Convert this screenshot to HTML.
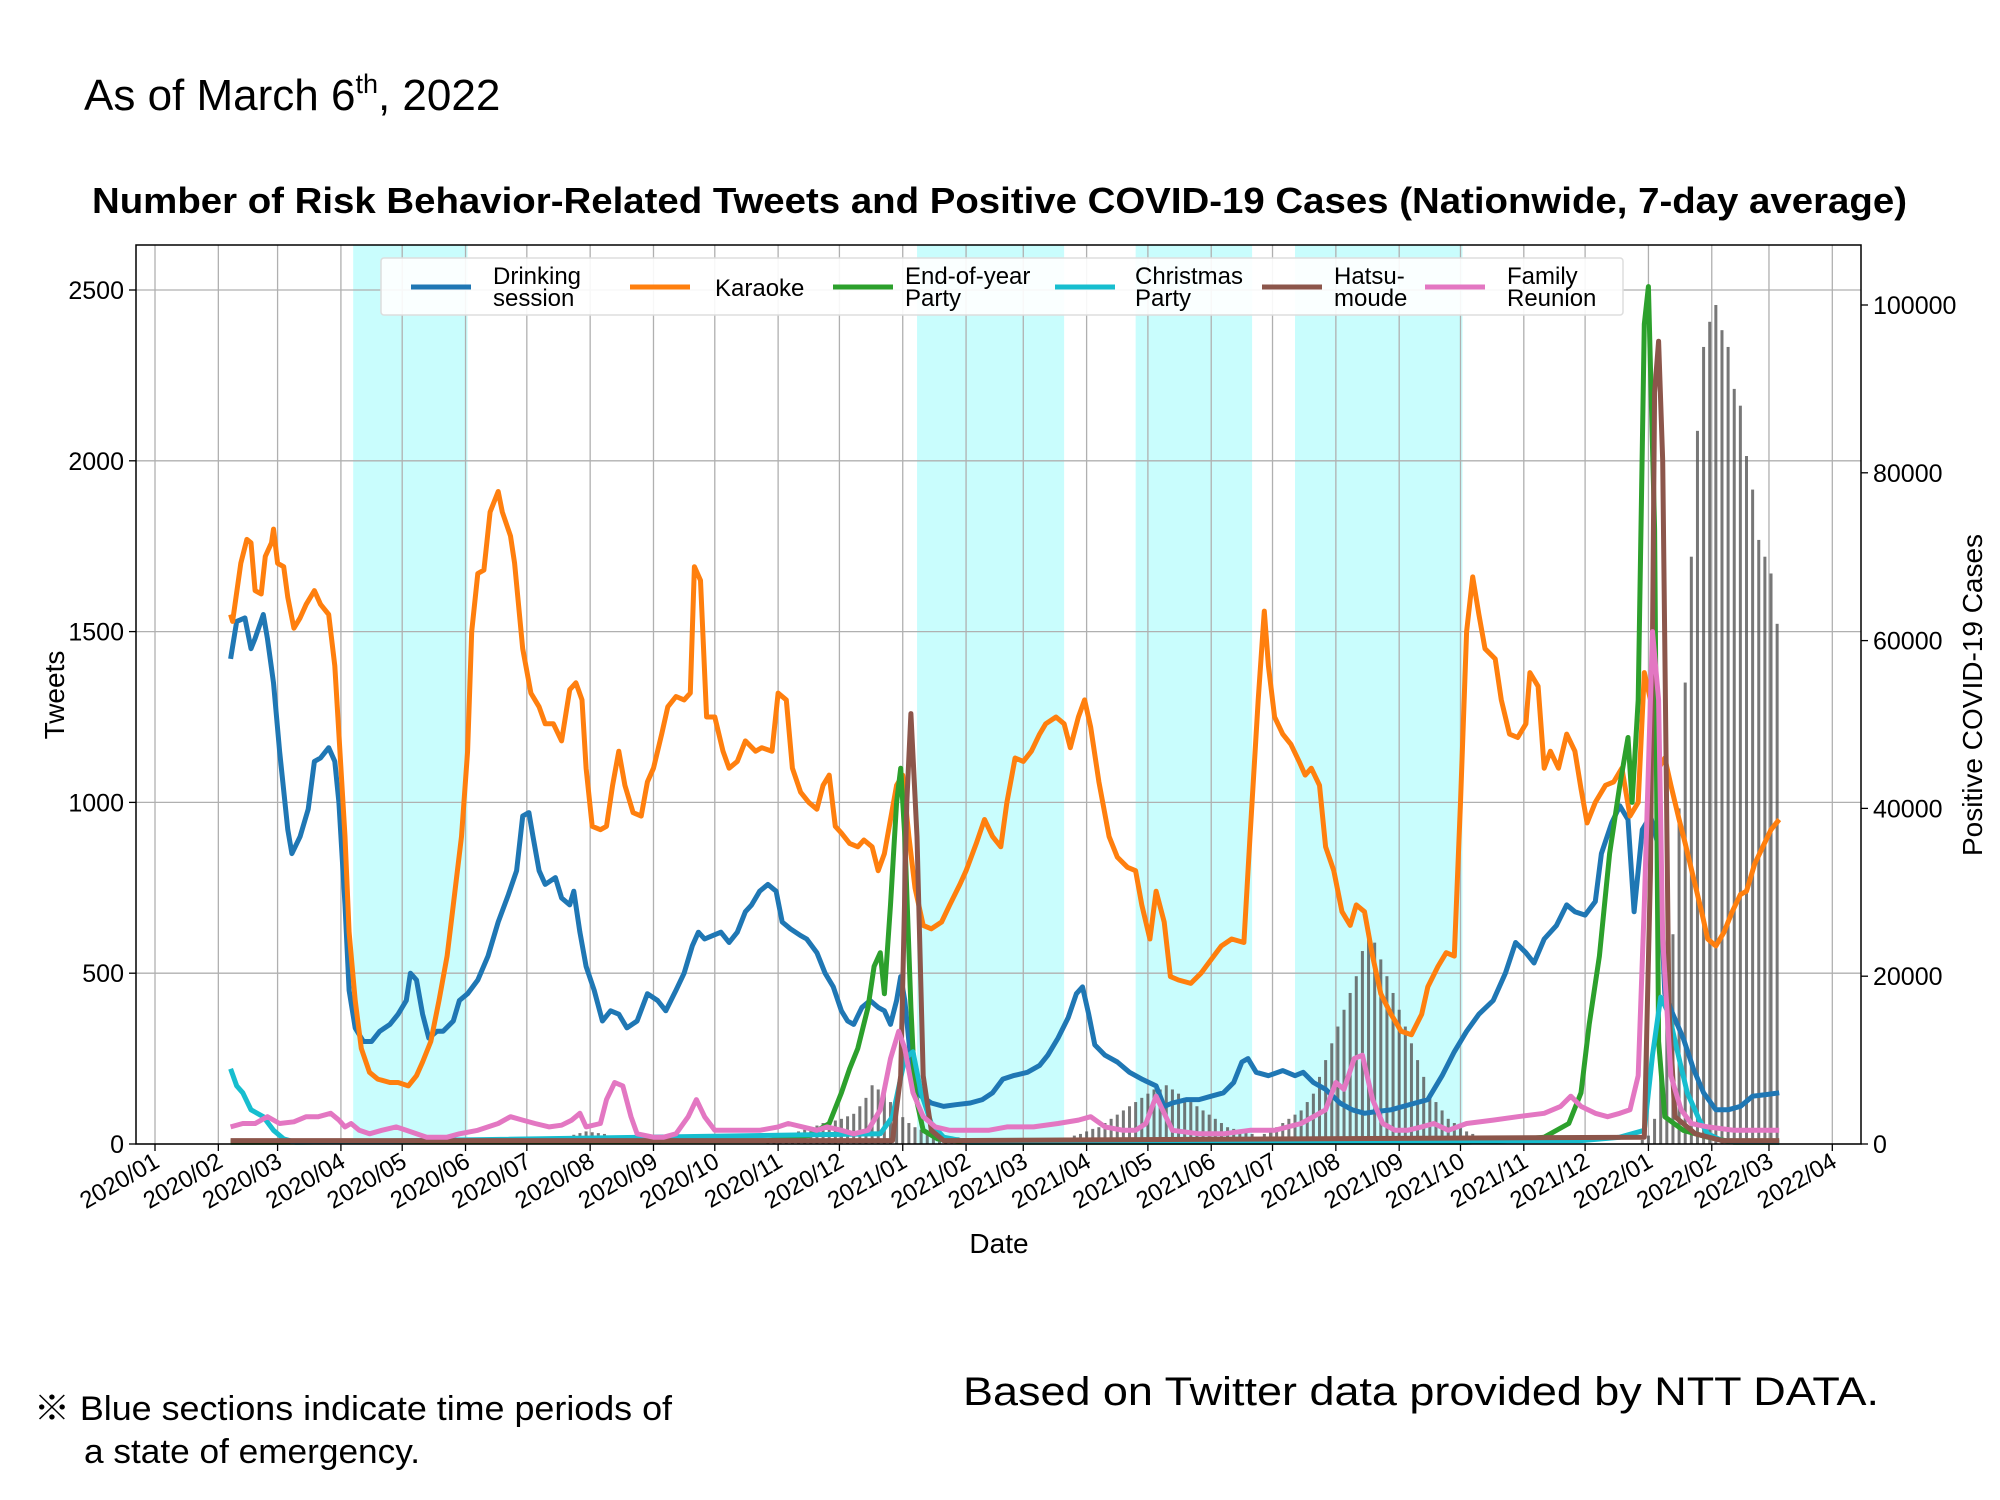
<!DOCTYPE html>
<html><head><meta charset="utf-8"><style>
html,body{margin:0;padding:0;background:#fff;}
svg{display:block;font-family:"Liberation Sans","Noto Sans CJK JP",sans-serif;}
</style></head><body>
<svg id="chart" width="2000" height="1500" viewBox="0 0 2000 1500">
<text x="84" y="110" font-size="44">As of March 6<tspan font-size="27" dy="-17">th</tspan><tspan dy="17">, 2022</tspan></text>
<text x="92" y="213" font-size="36" font-weight="bold" textLength="1815" lengthAdjust="spacingAndGlyphs">Number of Risk Behavior-Related Tweets and Positive COVID-19 Cases (Nationwide, 7-day average)</text>
<text x="963" y="1405" font-size="40" textLength="916" lengthAdjust="spacingAndGlyphs">Based on Twitter data provided by NTT DATA.</text>
<text x="34" y="1420" font-size="34" textLength="638" lengthAdjust="spacingAndGlyphs">※ Blue sections indicate time periods of</text>
<text x="84" y="1463" font-size="34" textLength="336" lengthAdjust="spacingAndGlyphs">a state of emergency.</text>
<text transform="translate(64,695) rotate(-90)" text-anchor="middle" font-size="28">Tweets</text>
<text transform="translate(1982,695) rotate(-90)" text-anchor="middle" font-size="28">Positive COVID-19 Cases</text>
<text x="999" y="1253" text-anchor="middle" font-size="28">Date</text>
<g id="plot"></g>
</svg>
<script>
const emergStart=[97,373,480,558];
const emergEnd=[153,445,537,640];
const monthLabels=["2020/01","2020/02","2020/03","2020/04","2020/05","2020/06","2020/07","2020/08","2020/09","2020/10","2020/11","2020/12","2021/01","2021/02","2021/03","2021/04","2021/05","2021/06","2021/07","2021/08","2021/09","2021/10","2021/11","2021/12","2022/01","2022/02","2022/03","2022/04"];
const monthDays=[0,31,60,91,121,152,182,213,244,274,305,335,366,397,425,456,486,517,547,578,609,639,670,700,731,762,790,821];
const leftTicks=[0,500,1000,1500,2000,2500];
const rightTicks=[0,20000,40000,60000,80000,100000];
const caseSegStart=[190,300,450,543,728];
const caseSeg0=[200,300,500,700,900,1100,1300,1500,1400,1300,1200,1000,900,800,700,600,500,500,450,400];
const caseSeg1=[500,600,800,1000,1200,1500,1700,2000,2200,2500,2700,2800,3000,3300,3600,4500,5500,7000,6500,6000,5000,4000,3200,2500,2000,1700,1500,1300,1100,1000,900,800,700,600];
const caseSeg2=[1000,1200,1500,1800,2000,2500,3000,3500,4000,4500,5000,5500,6000,6500,6500,7000,6500,6000,5500,5000,4500,4000,3500,3000,2500,2000,1800,1500,1300,1200];
const caseSeg3=[1200,1500,2000,2500,3000,3500,4000,5000,6000,8000,10000,12000,14000,16000,18000,20000,23000,25000,24000,22000,20000,18000,16000,14000,12000,10000,8000,6000,5000,4000,3000,2500,2000,1500,1200,1000];
const caseSeg4=[500,1000,3000,8000,15000,25000,40000,55000,70000,85000,95000,98000,100000,97000,95000,90000,88000,82000,78000,72000,70000,68000,62000];
const drinkDays=[37,40,44,47,49,53,55,58,61,65,67,71,75,78,81,85,88,90,93,95,98,102,106,110,115,119,123,125,128,131,134,138,141,146,149,153,158,163,168,173,177,180,183,185,188,191,196,199,203,205,208,211,215,219,223,227,231,236,241,246,250,255,259,263,266,269,273,277,281,285,289,292,296,300,304,307,311,316,319,324,328,332,336,339,342,346,350,354,357,360,363,365,367,371,375,380,386,392,399,405,410,415,420,427,433,437,442,447,451,454,457,460,465,471,477,483,490,494,498,505,511,517,523,528,532,535,539,545,552,558,562,567,573,580,586,592,598,605,611,617,623,630,636,642,648,655,661,666,671,675,680,686,691,695,700,705,708,713,717,721,724,728,732,736,739,743,748,753,758,764,770,776,782,789,795];
const drinkVals=[1420,1530,1540,1450,1480,1550,1480,1350,1150,920,850,900,980,1120,1130,1160,1120,1000,700,450,340,300,300,330,350,380,420,500,480,380,310,330,330,360,420,440,480,550,650,730,800,960,970,900,800,760,780,720,700,740,620,520,450,360,390,380,340,360,440,420,390,450,500,580,620,600,610,620,590,620,680,700,740,760,740,650,630,610,600,560,500,460,390,360,350,400,420,400,390,350,420,490,420,180,140,120,110,115,120,130,150,190,200,210,230,260,310,370,440,460,380,290,260,240,210,190,170,110,120,130,130,140,150,180,240,250,210,200,215,200,210,180,160,120,100,90,95,100,110,120,130,200,270,330,380,420,500,590,560,530,600,640,700,680,670,710,850,940,990,950,680,920,960,870,440,380,310,220,150,100,100,110,140,145,150];
const karaDays=[37,38,42,45,47,49,52,54,57,58,60,63,65,68,71,74,78,81,85,88,90,93,95,98,101,105,109,115,119,124,128,131,135,139,143,146,150,153,155,158,161,164,168,170,174,176,180,184,188,191,195,199,203,206,209,211,214,218,221,224,227,230,234,238,241,244,248,251,255,259,262,264,267,270,274,278,281,285,289,294,297,302,305,309,312,316,320,324,327,330,333,336,340,344,347,351,354,357,360,363,366,369,372,376,380,385,389,394,397,402,406,410,414,417,421,425,429,433,436,441,445,448,452,455,458,462,467,471,476,480,483,487,490,494,497,501,507,512,517,522,527,533,536,540,543,545,548,552,556,560,563,566,570,573,577,581,585,588,592,596,600,605,610,615,620,623,628,632,636,639,642,645,648,651,656,659,663,667,671,673,677,680,683,687,691,695,698,701,705,710,714,718,722,726,729,732,736,739,742,746,749,753,757,760,764,768,772,776,779,783,787,791,795];
const karaVals=[1550,1530,1700,1770,1760,1620,1610,1720,1760,1800,1700,1690,1600,1510,1540,1580,1620,1580,1550,1400,1200,900,620,420,280,210,190,180,180,170,200,240,300,420,550,700,900,1150,1500,1670,1680,1850,1910,1850,1780,1700,1450,1320,1280,1230,1230,1180,1330,1350,1300,1100,930,920,930,1050,1150,1050,970,960,1060,1100,1200,1280,1310,1300,1320,1690,1650,1250,1250,1150,1100,1120,1180,1150,1160,1150,1320,1300,1100,1030,1000,980,1050,1080,930,910,880,870,890,870,800,850,950,1050,1080,900,750,640,630,650,700,760,800,880,950,900,870,1000,1130,1120,1150,1200,1230,1250,1230,1160,1250,1300,1220,1060,900,840,810,800,700,600,740,650,490,480,470,500,540,580,600,590,900,1300,1560,1400,1250,1200,1170,1120,1080,1100,1050,870,800,680,640,700,680,550,440,380,330,320,380,460,520,560,550,1000,1500,1660,1550,1450,1420,1300,1200,1190,1230,1380,1340,1100,1150,1100,1200,1150,1040,940,1000,1050,1060,1100,960,1000,1380,1300,1100,1130,1050,950,880,780,680,600,580,620,680,730,740,820,870,920,950];
const endDays=[37,300,320,330,336,340,344,349,352,355,357,360,363,365,367,370,372,376,383,399,642,661,680,692,698,702,707,712,717,721,723,726,729,731,734,736,739,748,760,773,795];
const endVals=[5,10,25,60,150,220,280,400,520,560,440,700,1000,1100,900,400,150,40,15,5,5,10,20,60,150,350,550,850,1050,1190,1000,1300,2400,2510,1800,300,80,40,20,5,5];
const xmasDays=[37,40,43,47,53,58,63,69,355,361,367,371,375,380,386,399,698,717,729,733,737,741,746,750,756,760,767,795];
const xmasVals=[220,170,150,100,80,40,15,5,30,80,250,270,150,60,20,5,10,20,40,260,430,380,250,150,70,30,10,5];
const hatsuDays=[37,361,365,368,370,373,376,380,386,729,732,734,736,738,741,744,754,767,795];
const hatsuVals=[10,10,200,1000,1260,900,200,40,10,20,800,2200,2350,2000,400,80,30,10,10];
const famDays=[37,43,49,55,61,68,74,80,86,90,93,96,100,105,111,118,123,128,133,143,149,158,168,174,180,186,193,199,204,208,211,218,221,225,229,233,236,244,249,255,261,265,269,274,280,286,296,305,310,317,324,329,336,342,349,355,360,364,367,371,376,382,389,399,408,417,430,442,452,458,465,474,480,485,490,494,498,511,523,536,548,561,567,573,578,582,587,591,596,601,607,613,620,626,633,642,655,667,680,688,693,698,705,711,717,722,726,729,733,736,738,742,747,752,760,773,786,795];
const famVals=[50,60,60,80,60,65,80,80,90,70,50,60,40,30,40,50,40,30,20,20,30,40,60,80,70,60,50,55,70,90,50,60,130,180,170,80,30,20,20,30,80,130,80,40,40,40,40,50,60,50,40,50,40,30,40,100,250,330,280,150,80,50,40,40,40,50,50,60,70,80,50,40,40,60,140,90,40,30,30,40,40,60,80,100,180,160,250,260,130,60,40,40,50,60,40,60,70,80,90,110,140,110,90,80,90,100,200,700,1500,1300,600,200,100,60,50,40,40,40];

const NS='http://www.w3.org/2000/svg';
const L=136,R=1861,T=245,B=1144;
const X=d=>155+d*2.043;
const Y=v=>B-v*(854/2500);
const Y2=v=>B-v*(839/100000);
const plot=document.getElementById('plot');
function mk(tag,attrs,parent){const e=document.createElementNS(NS,tag);for(const k in attrs)e.setAttribute(k,attrs[k]);(parent||plot).appendChild(e);return e;}

emergStart.forEach((s,i)=>{
  const r=mk('rect',{x:X(s),y:T,width:X(emergEnd[i])-X(s),height:B-T,fill:'#c9fdfd'});
  
  
});
leftTicks.forEach(v=>{
  const g=mk('line',{x1:L,x2:R,y1:Y(v),y2:Y(v),stroke:'#b0b0b0','stroke-width':1.3});
  
  
  mk('line',{x1:L-7,x2:L,y1:Y(v),y2:Y(v),stroke:'#000','stroke-width':1.3});
  const t=mk('text',{x:L-12,y:Y(v)+9,'text-anchor':'end','font-size':25});
  t.textContent=v;
  
  
});
rightTicks.forEach(v=>{
  mk('line',{x1:R,x2:R+7,y1:Y2(v),y2:Y2(v),stroke:'#000','stroke-width':1.3});
  const t=mk('text',{x:R+12,y:Y2(v)+9,'font-size':25});
  t.textContent=v;
  
  
});
monthDays.forEach((d,i)=>{
  const g=mk('line',{x1:X(d),x2:X(d),y1:T,y2:B,stroke:'#b0b0b0','stroke-width':1.3});
  
  
  mk('line',{x1:X(d),x2:X(d),y1:B,y2:B+7,stroke:'#000','stroke-width':1.3});
  const t=mk('text',{transform:`translate(${X(d)+6},${B+22}) rotate(-30)`,'text-anchor':'end','font-size':24});
  t.textContent=monthLabels[i];
  
  
});
const segs=[caseSeg0,caseSeg1,caseSeg2,caseSeg3,caseSeg4];
segs.forEach((seg,si)=>{
  seg.forEach((v,j)=>{
    const d=caseSegStart[si]+j*3;
    const b=mk('rect',{x:X(d)-1.5,y:Y2(v),width:3,height:B-Y2(v),fill:'#555','fill-opacity':0.8});
    
    
  });
});
function line(days,vals,color,name){
  const p=mk('polyline',{points:days.map((d,i)=>X(d).toFixed(1)+','+Y(vals[i]).toFixed(1)).join(' '),fill:'none',stroke:color,'stroke-width':5,'stroke-linejoin':'round'});
  
  
}
line(drinkDays,drinkVals,'#1f77b4','drinking-session-line');
line(karaDays,karaVals,'#ff7f0e','karaoke-line');
line(endDays,endVals,'#2ca02c','end-of-year-party-line');
line(xmasDays,xmasVals,'#17becf','christmas-party-line');
line(hatsuDays,hatsuVals,'#8c564b','hatsumode-line');
line(famDays,famVals,'#e377c2','family-reunion-line');
const fr=mk('rect',{x:L,y:T,width:R-L,height:B-T,fill:'none',stroke:'#000','stroke-width':1.5});


const lg=mk('g',{});


mk('rect',{x:381,y:258,width:1242,height:57,fill:'#fff','fill-opacity':0.9,stroke:'#ddd','stroke-width':1.5,rx:3},lg);
const legNames=[['Drinking','session'],['Karaoke',''],['End-of-year','Party'],['Christmas','Party'],['Hatsu-','moude'],['Family','Reunion']];
const legColors=['#1f77b4','#ff7f0e','#2ca02c','#17becf','#8c564b','#e377c2'];
const legHX=[411,630,833,1055,1262,1425];
const legTX=[493,715,905,1135,1334,1507];
legNames.forEach((n,i)=>{
  const e=mk('g',{},lg);
  
  
  mk('line',{x1:legHX[i],x2:legHX[i]+60,y1:287,y2:287,stroke:legColors[i],'stroke-width':5},e);
  if(n[1]){
    const a=mk('text',{x:legTX[i],y:284,'font-size':24},e);a.textContent=n[0];
    const b=mk('text',{x:legTX[i],y:306,'font-size':24},e);b.textContent=n[1];
  } else {
    const a=mk('text',{x:legTX[i],y:296,'font-size':24},e);a.textContent=n[0];
  }
});
</script>
</body></html>
